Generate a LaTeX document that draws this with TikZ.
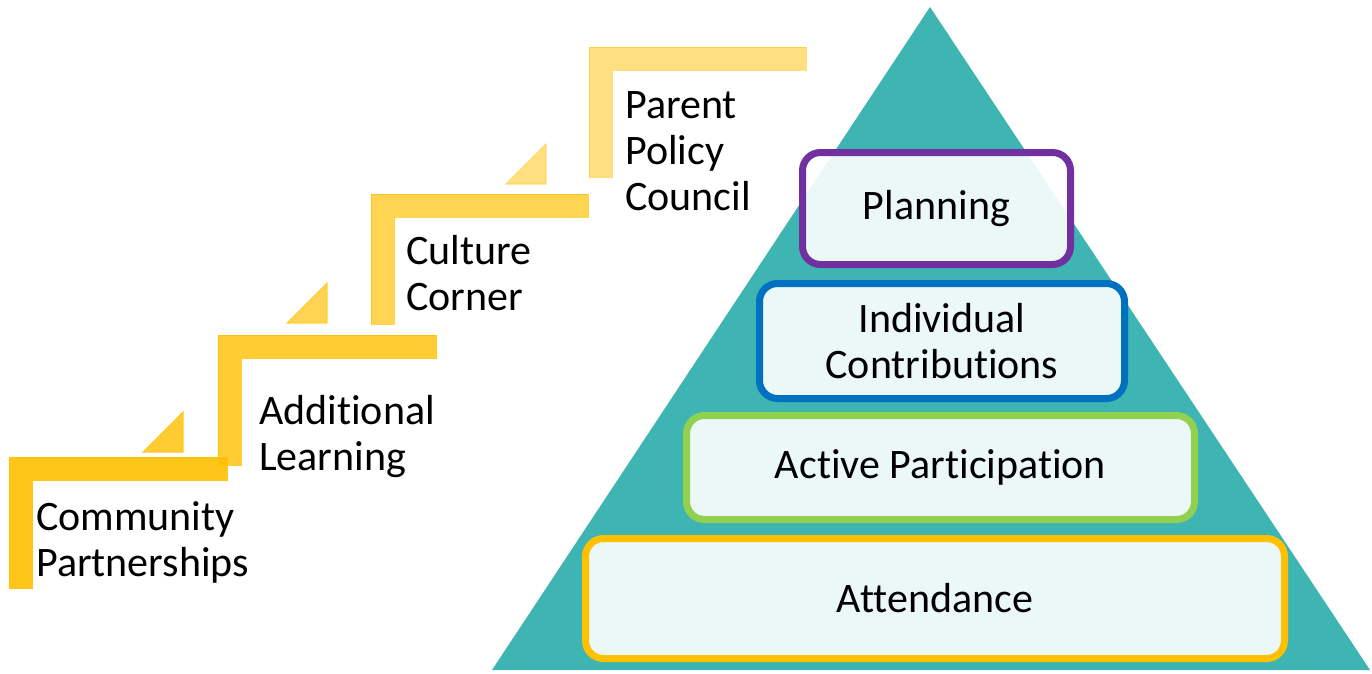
\documentclass[tikz,border=0pt]{standalone}
\usepackage{fontspec}
\setmainfont{Carlito}[Ligatures=NoCommon]
\usetikzlibrary{positioning}
\definecolor{stepgold}{HTML}{FFC000}
\definecolor{pyrteal}{HTML}{3EB5B3}
\definecolor{planpurple}{HTML}{7030A0}
\definecolor{indblue}{HTML}{0070C0}
\definecolor{actgreen}{HTML}{92D050}
\definecolor{attgold}{HTML}{FFC000}

\begin{document}
\begin{tikzpicture}[x=1pt,y=-1pt]
    \tikzstyle{stair}=[fill=stepgold,draw=stepgold,line width=1pt];
    \tikzstyle{steptext}=[anchor=west,align=left,inner sep=0pt,font=\fontsize{42}{46}\selectfont];
    \tikzstyle{tier}=[rounded corners=18pt,line width=7pt,fill=white,fill opacity=0.9,text opacity=1,
                      align=center,inner sep=0pt,font=\fontsize{42}{46}\selectfont];
    \useasboundingbox (0,0) rectangle (1372,673);

    % Draw the stairs
    \foreach \xa/\ya/\xb/\yb/\op in {9/457/227/588/0.9, 218/335/436/465/0.8,
                                     371/194/588/324/0.68, 589/47/806/177/0.5}
    \path[stair,opacity=\op] (\xa,\ya) -- (\xb,\ya) -- (\xb,\ya+23) -- (\xa+23,\ya+23)
        -- (\xa+23,\yb) -- (\xa,\yb) -- cycle;

    % Draw the small wedges between the stairs
    \foreach \xa/\ya/\op in {143/452/0.8, 287/323/0.68, 506/184/0.5}
    \path[stair,opacity=\op] (\xa,\ya) -- (\xa+40,\ya-40) -- (\xa+40,\ya) -- cycle;

    % Step labels
    \node[steptext] (community) at (36,542) {Community\\Partnerships};
    \node[steptext] (learning) at (259,437) {Additional\\Learning};
    \node[steptext] (culture) at (406,273) {Culture\\Corner};
    \node[steptext] (council) at (625,151) {Parent\\Policy\\Council};

    % Draw the pyramid
    \fill[pyrteal] (930,7) -- (1370,670) -- (492,670) -- cycle;

    % Draw the pyramid levels
    \node[tier,draw=planpurple,minimum width=268pt,minimum height=112pt] (planning) at (936.5,208.5) {Planning};
    \node[tier,draw=indblue,minimum width=365pt,minimum height=115pt] (contrib) at (942,341) {Individual\\Contributions};
    \node[tier,draw=actgreen,minimum width=508pt,minimum height=104pt] (active) at (940.5,467.5) {Active Participation};
    \node[tier,draw=attgold,minimum width=699pt,minimum height=120pt] (attend) at (935,598.5) {Attendance};
\end{tikzpicture}
\end{document}
